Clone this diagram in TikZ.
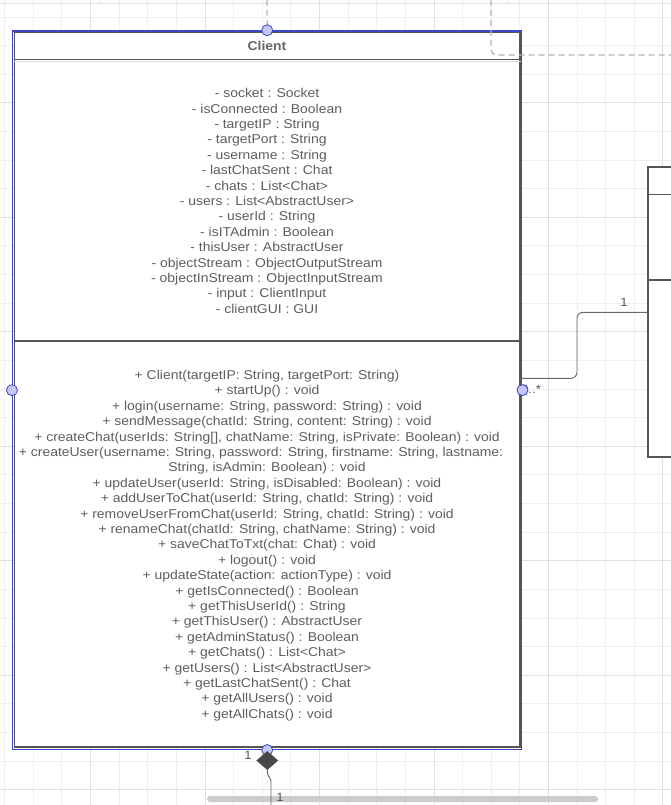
\documentclass[tikz,border=0pt]{standalone}
\usepackage{fontspec}
\setmainfont{Liberation Sans}
\newfontfamily\umlfont[FakeStretch=1.09]{Liberation Sans}
\usepackage{xcolor}
\usepackage{tikz}
\usetikzlibrary{shapes,positioning}
\definecolor{boxgray}{HTML}{555555}
\definecolor{selblue}{HTML}{3B45C6}
\definecolor{handle}{HTML}{C5C8F5}
\definecolor{txtgray}{HTML}{5E5E5E}
\definecolor{gridmin}{HTML}{EFEFEF}
\definecolor{gridmaj}{HTML}{E0E0E0}
\tikzset{classbox/.style={rectangle,draw=boxgray,fill=white,line width=1.6pt,inner sep=0pt}}
\tikzset{selbox/.style={rectangle,draw=selblue,line width=1.5pt,inner sep=0pt}}
\tikzset{hdl/.style={circle,draw=selblue,fill=handle,line width=0.8pt,minimum size=11pt,inner sep=0pt}}
\tikzset{members/.style={align=center,text=txtgray,inner sep=0pt,font=\umlfont\fontsize{12.8}{15.4}\selectfont}}
\tikzset{mult/.style={text=boxgray,inner sep=0pt,font=\umlfont\fontsize{12}{14}\selectfont}}
\tikzset{assoc/.style={draw=boxgray!90,line width=0.9pt}}
\tikzset{dashline/.style={draw=black!30,line width=1.2pt,dash pattern=on 6pt off 4pt}}

\begin{document}
\begin{tikzpicture}[x=1pt,y=-1pt]
    \useasboundingbox (0,0) rectangle (671,805);
    \clip (0,0) rectangle (671,805);
    \foreach \k in {0,...,23} {
        \pgfmathsetmacro{\gx}{4.7+28.62*\k}
        \pgfmathtruncatemacro{\md}{mod(\k,4)}
        \ifnum\md=3 \draw[gridmaj,line width=1pt] (\gx,0) -- (\gx,805);
        \else \draw[gridmin,line width=1pt] (\gx,0) -- (\gx,805); \fi
    }
    \foreach \k in {1,...,28} {
        \pgfmathsetmacro{\gy}{-11.6+28.62*\k}
        \pgfmathtruncatemacro{\md}{mod(\k,4)}
        \ifnum\md=0 \draw[gridmaj,line width=1pt] (0,\gy) -- (671,\gy);
        \else \draw[gridmin,line width=1pt] (0,\gy) -- (671,\gy); \fi
    }
    \draw[gridmaj,line width=1pt] (0,3.3) -- (671,3.3);
    \draw[gridmaj,line width=1pt] (100,0) -- (100,3.3);
    \draw[gridmaj,line width=1pt] (507,0) -- (507,3.3);

    \node[classbox,minimum width=505.7,minimum height=714.4] (client) at (267.15,389.5) {};
    \node[classbox,minimum width=80,minimum height=289.4] (rightcls) at (687.7,312) {};
    \draw[boxgray,line width=1.4pt] (rightcls.west |- 0,194.3) -- (rightcls.east |- 0,194.3);
    \draw[boxgray,line width=1.4pt] (rightcls.west |- 0,280) -- (rightcls.east |- 0,280);

    \node[font=\umlfont\bfseries\fontsize{12.8}{15}\selectfont,text=boxgray!90] (title) at (267,46) {Client};
    \draw[boxgray,line width=1.4pt] (client.west |- 0,59.5) -- (client.east |- 0,59.5);
    \draw[black!15,line width=1pt] (client.west |- 0,61.3) -- (client.east |- 0,61.3);
    \draw[boxgray,line width=1.4pt] (client.west |- 0,341) -- (client.east |- 0,341);

    \node[members] (attrs) at (267,201) {- socket : Socket\\
        - isConnected : Boolean\\
        - targetIP : String\\
        - targetPort : String\\
        - username : String\\
        - lastChatSent : Chat\\
        - chats : List<Chat>\\
        - users : List<AbstractUser>\\
        - userId : String\\
        - isITAdmin : Boolean\\
        - thisUser : AbstractUser\\
        - objectStream : ObjectOutputStream\\
        - objectInStream : ObjectInputStream\\
        - input : ClientInput\\
        - clientGUI : GUI};
    \node[members] (ops) at (267,545.5) {+ Client(targetIP: String, targetPort: String)\\
        + startUp() : void\\
        + login(username: String, password: String) : void\\
        + sendMessage(chatId: String, content: String) : void\\
        + createChat(userIds: String[], chatName: String, isPrivate: Boolean) : void\\
        + createUser(username: String, password: String, firstname: String, lastname:\rule{12pt}{0pt}\\
        String, isAdmin: Boolean) : void\\
        + updateUser(userId: String, isDisabled: Boolean) : void\\
        + addUserToChat(userId: String, chatId: String) : void\\
        + removeUserFromChat(userId: String, chatId: String) : void\\
        + renameChat(chatId: String, chatName: String) : void\\
        + saveChatToTxt(chat: Chat) : void\\
        + logout() : void\\
        + updateState(action: actionType) : void\\
        + getIsConnected() : Boolean\\
        + getThisUserId() : String\\
        + getThisUser() : AbstractUser\\
        + getAdminStatus() : Boolean\\
        + getChats() : List<Chat>\\
        + getUsers() : List<AbstractUser>\\
        + getLastChatSent() : Chat\\
        + getAllUsers() : void\\
        + getAllChats() : void};

    \node[selbox,minimum width=509,minimum height=718.3] (sel) at (267.2,390.15) {};

    \coordinate (topin) at (267,0);
    \coordinate (dashtop) at (491,0);
    \coordinate (dashend) at (671,55);
    \draw[dashline] (topin) -- (sel.north);
    \draw[dashline,rounded corners=6pt] (dashtop) |- (dashend);

    \coordinate (assocout) at (client.east |- 0,378.3);
    \draw[assoc,rounded corners=6pt] (assocout) -- (577,378.3) |- (rightcls.west |- 0,312.3);
    \node[mult] (m1) at (624,302) {1};
    \node[mult,anchor=west] (m2) at (521,389) {0..*};

    \node[hdl] (ht) at (sel.north) {};
    \node[hdl] (hl) at (sel.west) {};
    \node[hdl] (hr) at (sel.east) {};
    \node[hdl] (hb) at (sel.south) {};

    \fill[black!20,rounded corners=3pt] (207,796) rectangle (598,802);
    \node[diamond,fill=boxgray!85!black,inner sep=0pt,minimum width=22pt,minimum height=19pt] (diam) at (267.3,760.5) {};
    \coordinate (compend) at (271,805);
    \draw[assoc,rounded corners=2pt] (diam.south) -- (267.3,775) -- (271,779) -- (compend);
    \node[mult] (m3) at (248,755) {1};
    \node[mult] (m4) at (280,797) {1};
\end{tikzpicture}
\end{document}
